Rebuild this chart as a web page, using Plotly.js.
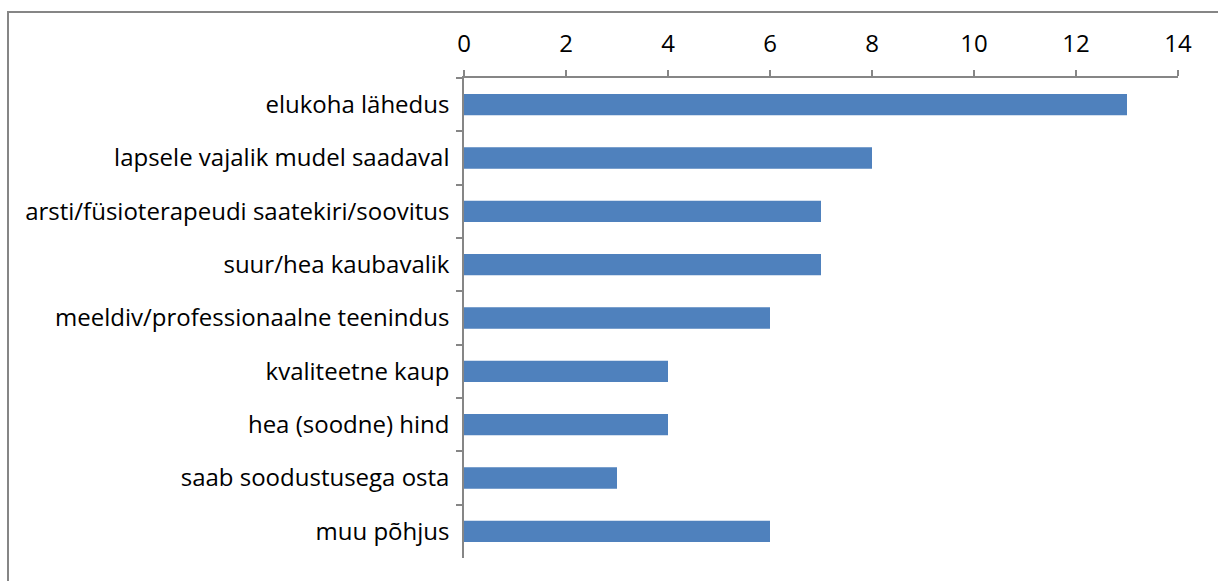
<!DOCTYPE html>
<html>
<head>
<meta charset="utf-8">
<script src="https://cdn.plot.ly/plotly-3.0.1.min.js"></script>
<style>
  html, body { margin: 0; padding: 0; background: #fff; }
  #chart { width: 1218px; height: 581px; }
  #frame { position: absolute; left: 7px; top: 11px; width: 1220px; height: 600px;
           border-top: 2px solid #868686; border-left: 2px solid #868686; pointer-events: none; }
</style>
</head>
<body>
<div id="chart"></div>
<div id="frame"></div>
<script>
const categories = [
  "elukoha lähedus",
  "lapsele vajalik mudel saadaval",
  "arsti/füsioterapeudi saatekiri/soovitus",
  "suur/hea kaubavalik",
  "meeldiv/professionaalne teenindus",
  "kvaliteetne kaup",
  "hea (soodne) hind",
  "saab soodustusega osta",
  "muu põhjus"
];
const values = [13, 8, 7, 7, 6, 4, 4, 3, 6];
const xTicks = [0, 2, 4, 6, 8, 10, 12, 14];

const font = { family: "Open Sans, Liberation Sans, Arial, sans-serif", size: 24, color: "#000" };

Plotly.newPlot("chart", [{
  type: "bar",
  orientation: "h",
  x: values,
  y: categories,
  width: 0.4,
  marker: { color: "#4F81BD" },
  hoverinfo: "x+y"
}], {
  width: 1218, height: 581,
  margin: { l: 464, r: 40, t: 78, b: 23, pad: 0 },
  paper_bgcolor: "#fff", plot_bgcolor: "#fff",
  showlegend: false,
  font: font,
  xaxis: {
    side: "top",
    range: [0, 14],
    tickvals: xTicks,
    ticktext: xTicks.map(String),
    ticks: "outside", ticklen: 6, tickwidth: 1.5, tickcolor: "#868686",
    showline: true, linecolor: "#868686", linewidth: 1.5,
    showgrid: false, zeroline: false,
    ticklabelstandoff: 9,
    tickfont: font
  },
  yaxis: {
    type: "category",
    autorange: "reversed",
    ticks: "outside", ticklen: 6, tickwidth: 1.5, tickcolor: "#868686",
    tickson: "boundaries",
    showline: true, linecolor: "#868686", linewidth: 1.5,
    showgrid: false, zeroline: false,
    ticklabelstandoff: 8,
    tickfont: font
  }
}, { displayModeBar: false });
</script>
</body>
</html>
